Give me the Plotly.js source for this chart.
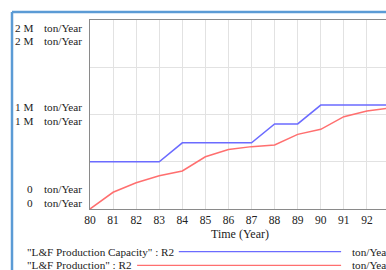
<!DOCTYPE html>
<html>
<head>
<meta charset="utf-8">
<script src="https://cdn.plot.ly/plotly-3.0.1.min.js"></script>
<style>
html,body{margin:0;padding:0;overflow:hidden;background:#fff;}
#chart{width:390px;height:270px;}
</style>
</head>
<body>
<div id="chart"></div>
<script>
var years = [80, 81, 82, 83, 84, 85, 86, 87, 88, 89, 90, 91, 92, 93];
var capacity = [500000, 500000, 500000, 500000, 700000, 700000, 700000, 700000, 900000, 900000, 1100000, 1100000, 1100000, 1100000];
var production = [0, 177000, 278000, 352000, 402000, 553000, 630000, 660000, 677000, 790000, 843000, 977000, 1037000, 1070000];
var yTickVals = [2000000, 1000000, 0];
var yTickNums = ["2 M", "1 M", "0"];
var yUnit = "ton/Year";
var seriesNames = ['"L&F Production Capacity" : R2', '"L&F Production" : R2'];
var xTitle = "Time (Year)";

var FONT = "Liberation Serif, Times New Roman, serif";
var FS = 11.2;
var BLUE = "#6b6bff", RED = "#ff6f6f";

var traces = [
  {x: years, y: capacity, type: "scatter", mode: "lines", line: {color: BLUE, width: 1.5}, name: seriesNames[0], hoverinfo: "none"},
  {x: years, y: production, type: "scatter", mode: "lines", line: {color: RED, width: 1.5}, name: seriesNames[1], hoverinfo: "none"}
];

var shifts = [[-8, -21], [8, -6], [20, 6]];
var annotations = [];
yTickVals.forEach(function (v, i) {
  for (var r = 0; r < 2; r++) {
    annotations.push({xref: "paper", yref: "y", x: -0.183, y: v, xanchor: "right", yanchor: "middle",
      yshift: shifts[i][r], text: yTickNums[i], showarrow: false, font: {family: FONT, size: FS, color: "#222"}});
    annotations.push({xref: "paper", yref: "y", x: -0.16, y: v, xanchor: "left", yanchor: "middle",
      yshift: shifts[i][r], text: yUnit, showarrow: false, font: {family: FONT, size: FS, color: "#222"}});
  }
});
annotations.push({xref: "paper", yref: "paper", x: 0.5, y: -0.132, xanchor: "center", yanchor: "middle",
  text: xTitle, showarrow: false, font: {family: FONT, size: 12, color: "#222"}});
var legY = [-0.226, -0.298];
seriesNames.forEach(function (n, i) {
  annotations.push({xref: "paper", yref: "paper", x: -0.2167, y: legY[i], xanchor: "left", yanchor: "middle",
    text: n, showarrow: false, font: {family: FONT, size: FS, color: "#222"}});
  annotations.push({xref: "paper", yref: "paper", x: 0.8667, y: legY[i], xanchor: "left", yanchor: "middle",
    text: yUnit, showarrow: false, font: {family: FONT, size: FS, color: "#222"}});
});

var shapes = [
  {type: "line", xref: "paper", yref: "paper", x0: -0.26, x1: 1.1, y0: 1.0423, y1: 1.0423, line: {color: "#5b9bd5", width: 2.5}},
  {type: "line", xref: "paper", yref: "paper", x0: -0.26, x1: -0.26, y0: 1.0423, y1: -0.4, line: {color: "#5b9bd5", width: 2.5}},
  {type: "line", xref: "paper", yref: "paper", x0: 0.296, x1: 0.837, y0: legY[0], y1: legY[0], line: {color: BLUE, width: 1.2}},
  {type: "line", xref: "paper", yref: "paper", x0: 0.157, x1: 0.837, y0: legY[1], y1: legY[1], line: {color: RED, width: 1.2}}
];

var layout = {
  width: 390, height: 270,
  margin: {l: 90, r: 0, t: 20, b: 61, pad: 0},
  paper_bgcolor: "#fff", plot_bgcolor: "#fff",
  showlegend: false,
  font: {family: FONT, size: FS, color: "#222"},
  xaxis: {range: [80, 93], dtick: 1, tick0: 80, showgrid: true, gridcolor: "#e2e2e2", gridwidth: 1,
    zeroline: false, showline: true, mirror: true, linecolor: "#8a8a8a", linewidth: 1,
    ticks: "", tickfont: {family: FONT, size: 11.5, color: "#222"}, fixedrange: true},
  yaxis: {range: [0, 2000000], dtick: 500000, tick0: 0, showgrid: true, gridcolor: "#e2e2e2", gridwidth: 1,
    zeroline: false, showline: true, linecolor: "#8a8a8a", linewidth: 1, showticklabels: false, ticks: "", fixedrange: true},
  annotations: annotations,
  shapes: shapes
};

Plotly.newPlot("chart", traces, layout, {displayModeBar: false, staticPlot: true});
</script>
</body>
</html>
